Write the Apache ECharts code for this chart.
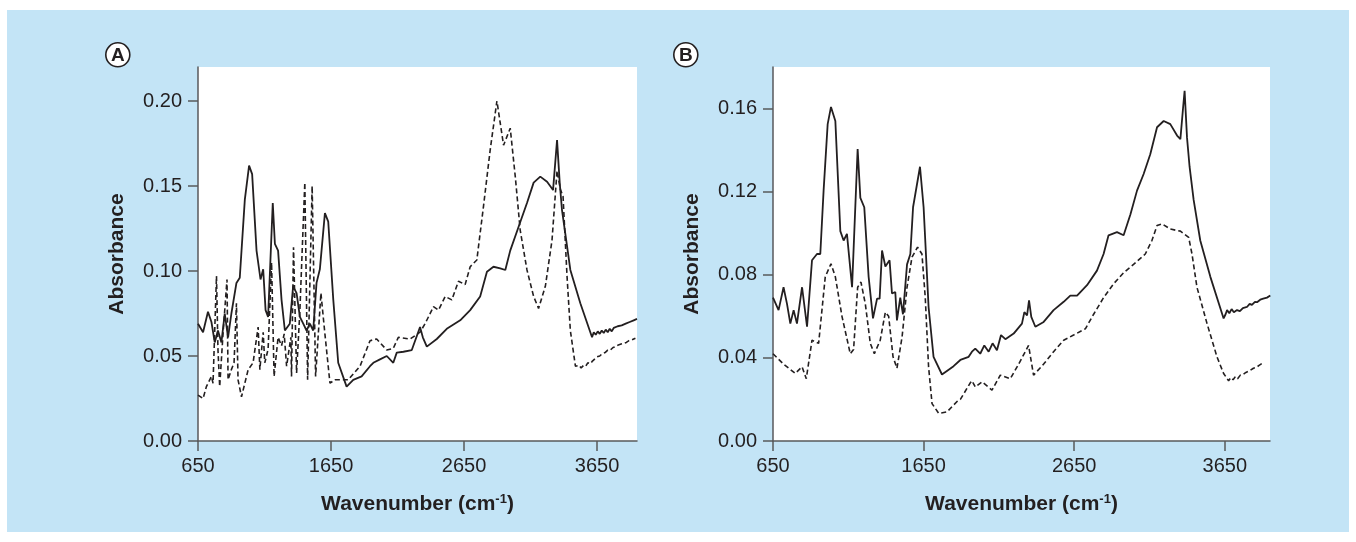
<!DOCTYPE html>
<html lang="en">
<head>
    <meta charset="UTF-8">
    <title>FTIR spectra</title>
    <script src="https://cdn.jsdelivr.net/npm/echarts@6/dist/echarts.min.js"></script>
    <style>
        * { margin: 0; padding: 0; }
        body, html { background: #fff; }
    </style>
</head>
<body>
<div id="main" style="width: 1356px;height:542px;"></div>
<script type="text/javascript">
    // ticks
    var xTicks = [650, 1650, 2650, 3650];
    var yTicksA = [0, 0.05, 0.10, 0.15, 0.20];
    var yTicksB = [0, 0.04, 0.08, 0.12, 0.16];

    // panel A, solid spectrum [wavenumber, absorbance]
    var aSolid = [[650,0.069],[688,0.064],[725,0.076],[751,0.070],[776,0.058],[800,0.065],[826,0.058],[851,0.075],
        [876,0.061],[901,0.075],[939,0.093],[964,0.096],[1002,0.142],[1034,0.162],[1057,0.157],[1090,0.112],
        [1120,0.095],[1140,0.101],[1158,0.077],[1177,0.073],[1212,0.140],[1228,0.116],[1252,0.112],[1278,0.083],
        [1303,0.065],[1340,0.069],[1365,0.091],[1391,0.087],[1416,0.073],[1441,0.069],[1466,0.065],[1491,0.069],
        [1516,0.065],[1541,0.093],[1566,0.101],[1604,0.134],[1629,0.129],[1667,0.083],[1704,0.046],[1767,0.032],
        [1817,0.036],[1880,0.038],[1943,0.044],[1968,0.046],[2018,0.048],[2069,0.050],[2118,0.046],[2144,0.052],
        [2194,0.0525],[2257,0.0535],[2282,0.059],[2319,0.067],[2340,0.061],[2370,0.0555],[2445,0.060],[2520,0.066],
        [2621,0.071],[2696,0.077],[2771,0.085],[2822,0.0996],[2871,0.1025],[2922,0.1016],[2960,0.1006],[2997,0.112],
        [3060,0.126],[3123,0.140],[3173,0.152],[3223,0.1555],[3274,0.1525],[3319,0.1476],[3349,0.177],[3369,0.152],
        [3386,0.136],[3411,0.122],[3449,0.1006],[3524,0.081],[3612,0.061],[3625,0.064],[3640,0.0625],[3655,0.0645],
        [3670,0.063],[3685,0.065],[3700,0.0635],[3715,0.0655],[3730,0.064],[3745,0.066],[3760,0.0645],[3775,0.0665],
        [3790,0.066],[3805,0.0675],[3820,0.0665],[3835,0.068],[3850,0.0675],[3865,0.069],[3880,0.0685],[3895,0.070],
        [3910,0.0695],[3925,0.071],[3940,0.0705],[3950,0.0718]];

    // panel A, dashed spectrum
    var aDashed = [[650,0.027],[688,0.025],[713,0.032],[751,0.038],[763,0.034],[789,0.097],[800,0.054],[813,0.032],
        [838,0.063],[868,0.095],[876,0.036],[901,0.042],[921,0.046],[939,0.081],[951,0.036],[977,0.026],[1027,0.042],
        [1064,0.046],[1102,0.067],[1115,0.042],[1140,0.064],[1152,0.046],[1177,0.054],[1203,0.105],[1222,0.038],
        [1252,0.061],[1278,0.056],[1298,0.063],[1316,0.044],[1348,0.061],[1353,0.038],[1368,0.114],[1391,0.040],
        [1416,0.077],[1453,0.152],[1474,0.036],[1508,0.150],[1534,0.038],[1574,0.087],[1604,0.063],[1642,0.034],
        [1679,0.036],[1779,0.036],[1868,0.044],[1943,0.059],[1993,0.060],[2069,0.0535],[2118,0.0545],[2156,0.061],
        [2244,0.060],[2319,0.064],[2357,0.069],[2420,0.079],[2458,0.077],[2508,0.085],[2558,0.083],[2608,0.094],
        [2658,0.092],[2696,0.1025],[2746,0.1065],[2796,0.138],[2846,0.171],[2897,0.200],[2947,0.174],[2997,0.184],
        [3035,0.1555],[3072,0.124],[3123,0.1006],[3173,0.085],[3210,0.078],[3261,0.091],[3311,0.118],[3349,0.159],
        [3374,0.148],[3394,0.144],[3424,0.097],[3449,0.065],[3487,0.044],[3500,0.0435],[3515,0.0445],[3530,0.043],
        [3549,0.0445],[3565,0.044],[3580,0.046],[3600,0.0455],[3615,0.047],[3630,0.048],[3650,0.0495],[3670,0.050],
        [3690,0.0515],[3710,0.052],[3730,0.0535],[3750,0.0535],[3770,0.055],[3790,0.0555],[3810,0.0565],[3830,0.057],
        [3850,0.0575],[3870,0.058],[3890,0.059],[3910,0.0595],[3938,0.0605]];

    // panel B, solid spectrum
    var bSolid = [[650,0.069],[687,0.063],[720,0.074],[743,0.066],[765,0.0565],[787,0.063],[809,0.0565],[843,0.074],
        [876,0.055],[909,0.087],[942,0.090],[964,0.090],[986,0.1205],[1013,0.1525],[1035,0.1608],[1064,0.154],
        [1097,0.101],[1119,0.0965],[1141,0.0997],[1175,0.074],[1212,0.1405],[1230,0.117],[1256,0.1125],[1285,0.079],
        [1314,0.059],[1341,0.0685],[1358,0.0685],[1374,0.0917],[1396,0.084],[1424,0.087],[1440,0.071],[1462,0.0717],
        [1473,0.058],[1495,0.069],[1513,0.061],[1540,0.085],[1562,0.090],[1580,0.1125],[1626,0.132],[1650,0.1125],
        [1683,0.0645],[1716,0.0405],[1772,0.032],[1849,0.036],[1894,0.039],[1949,0.0405],[1971,0.043],[1993,0.0445],
        [2026,0.042],[2053,0.046],[2082,0.043],[2108,0.047],[2137,0.0437],[2164,0.051],[2193,0.049],[2248,0.0517],
        [2303,0.0565],[2319,0.062],[2337,0.0605],[2350,0.0677],[2365,0.0597],[2392,0.055],[2447,0.0573],[2513,0.063],
        [2580,0.067],[2624,0.070],[2669,0.070],[2735,0.075],[2801,0.082],[2845,0.090],[2878,0.099],[2934,0.1005],
        [2978,0.099],[3023,0.109],[3067,0.1205],[3111,0.1285],[3155,0.138],[3200,0.151],[3244,0.154],[3288,0.1525],
        [3333,0.147],[3355,0.1453],[3373,0.1605],[3383,0.1685],[3399,0.146],[3416,0.132],[3443,0.116],[3487,0.0965],
        [3554,0.079],[3642,0.059],[3655,0.061],[3665,0.063],[3680,0.0615],[3695,0.0635],[3710,0.062],[3731,0.063],
        [3750,0.0625],[3770,0.064],[3797,0.0645],[3815,0.066],[3830,0.0655],[3850,0.067],[3864,0.0668],[3885,0.068],
        [3905,0.0685],[3930,0.069],[3952,0.070]];

    // panel B, dashed spectrum
    var bDashed = [[650,0.042],[720,0.037],[798,0.0325],[843,0.0357],[871,0.030],[909,0.0485],[953,0.047],[997,0.079],
        [1035,0.0853],[1064,0.079],[1108,0.060],[1163,0.042],[1185,0.044],[1212,0.074],[1234,0.0765],[1263,0.066],
        [1296,0.047],[1323,0.042],[1362,0.0485],[1396,0.062],[1418,0.060],[1447,0.0405],[1473,0.035],[1507,0.050],
        [1540,0.074],[1573,0.0885],[1610,0.0933],[1639,0.090],[1661,0.069],[1683,0.0357],[1706,0.018],[1750,0.0133],
        [1805,0.014],[1872,0.019],[1894,0.020],[1960,0.028],[1971,0.029],[1993,0.026],[2038,0.0285],[2104,0.0245],
        [2159,0.0317],[2226,0.030],[2281,0.037],[2347,0.046],[2380,0.0317],[2447,0.037],[2513,0.043],[2580,0.0485],
        [2646,0.051],[2724,0.054],[2779,0.061],[2845,0.069],[2912,0.0757],[2978,0.081],[3044,0.085],[3122,0.090],
        [3166,0.0965],[3200,0.1037],[3233,0.1045],[3288,0.102],[3355,0.101],[3410,0.098],[3432,0.090],[3465,0.074],
        [3532,0.0565],[3598,0.0405],[3642,0.0325],[3675,0.029],[3690,0.0305],[3705,0.0295],[3720,0.031],[3735,0.030],
        [3753,0.0317],[3770,0.032],[3790,0.033],[3805,0.0335],[3819,0.034],[3840,0.035],[3860,0.0355],[3880,0.0365],
        [3897,0.0373]];

    var ink = '#231f20';
    var axisCol = '#58595b';
    var font = 'Liberation Sans, Arial, Helvetica, sans-serif';

    function makeX(idx) {
        return {
            type: 'value', gridIndex: idx, min: 650, max: 3950,
            name: '{t|Wavenumber (cm}{s|-1}{t|)}',
            nameLocation: 'middle', nameGap: 52,
            nameTextStyle: {
                rich: {
                    t: {fontFamily: font, fontSize: 21, fontWeight: 'bold', color: ink},
                    s: {fontFamily: font, fontSize: 13, fontWeight: 'bold', color: ink, padding: [0, 0, 10, 0]}
                }
            },
            axisLine: {lineStyle: {color: axisCol, width: 1.5}},
            axisTick: {length: 10, lineStyle: {color: axisCol, width: 1.5}, customValues: xTicks},
            axisLabel: {
                customValues: xTicks, margin: 15, fontFamily: font, fontSize: 20, color: ink,
                formatter: function (v) { return String(v); }
            },
            splitLine: {show: false}
        };
    }

    function makeY(idx, max, ticks) {
        return {
            type: 'value', gridIndex: idx, min: 0, max: max,
            name: 'Absorbance', nameLocation: 'middle', nameGap: 70, nameRotate: 90,
            nameTextStyle: {fontFamily: font, fontSize: 21, fontWeight: 'bold', color: ink},
            axisLine: {show: true, lineStyle: {color: axisCol, width: 1.5}},
            axisTick: {show: true, length: 10, lineStyle: {color: axisCol, width: 1.5}, customValues: ticks},
            axisLabel: {
                customValues: ticks, margin: 16, fontFamily: font, fontSize: 20, color: ink,
                formatter: function (v) { return v.toFixed(2); }
            },
            splitLine: {show: false}
        };
    }

    function line(name, idx, data, dashed) {
        return {
            name: name, type: 'line', xAxisIndex: idx, yAxisIndex: idx,
            showSymbol: false, symbol: 'none', animation: false,
            lineStyle: {color: ink, width: dashed ? 1.6 : 1.8, type: dashed ? [5, 3] : 'solid'},
            data: data
        };
    }

    function badge(x, letter) {
        return {
            type: 'group', left: x - 13, top: 42,
            children: [
                {type: 'circle', shape: {cx: 13, cy: 13, r: 12}, style: {fill: '#fff', stroke: ink, lineWidth: 1.6}},
                {type: 'text', x: 13, y: 13.5, style: {text: letter, fill: ink, font: 'bold 19px ' + font, align: 'center', verticalAlign: 'middle'}}
            ]
        };
    }

    var myChart = echarts.init(document.getElementById('main'));
    var option = {
        animation: false,
        backgroundColor: '#ffffff',
        graphic: [
            {type: 'rect', left: 7, top: 10, shape: {width: 1342, height: 522}, style: {fill: '#c3e4f6'}, z: -10},
            badge(118, 'A'),
            badge(686, 'B')
        ],
        grid: [
            {left: 198, top: 67, width: 439, height: 374, show: true, backgroundColor: '#ffffff', borderWidth: 0},
            {left: 773, top: 67, width: 497, height: 374, show: true, backgroundColor: '#ffffff', borderWidth: 0}
        ],
        xAxis: [makeX(0), makeX(1)],
        yAxis: [makeY(0, 0.22, yTicksA), makeY(1, 0.18, yTicksB)],
        series: [
            line('A solid', 0, aSolid, false),
            line('A dashed', 0, aDashed, true),
            line('B solid', 1, bSolid, false),
            line('B dashed', 1, bDashed, true)
        ]
    };
    myChart.setOption(option);
</script>
</body>
</html>
